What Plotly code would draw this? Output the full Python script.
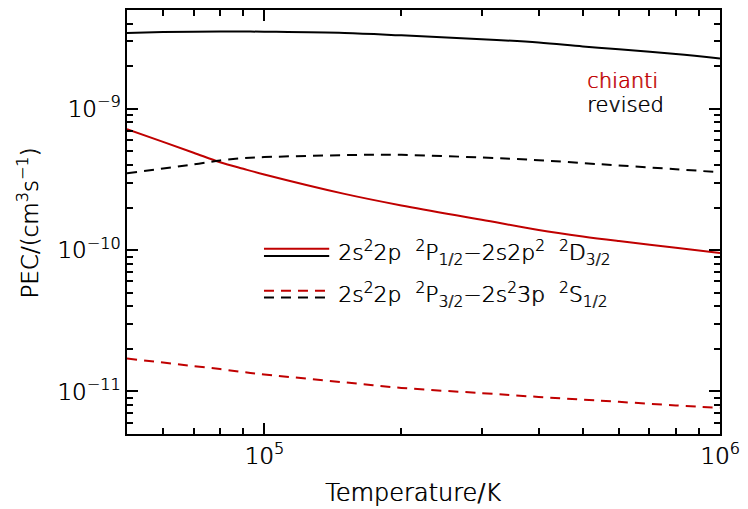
import plotly.graph_objects as go

# Temperature grid (K)
temperature = [5e4, 6e4, 7e4, 8e4, 9e4, 1e5, 1.5e5, 2e5, 3e5, 4e5, 5e5, 6e5, 8e5, 1e6]

# 2s2 2p 2P1/2 - 2s 2p2 2D3/2  (cm^3 s^-1)
pec_d32_chianti = [7.18e-10, 5.83e-10, 4.89e-10, 4.19e-10, 3.76e-10, 3.43e-10, 2.50e-10,
                   2.07e-10, 1.64e-10, 1.39e-10, 1.25e-10, 1.16e-10, 1.04e-10, 9.55e-11]
pec_d32_revised = [3.44e-9, 3.49e-9, 3.51e-9, 3.52e-9, 3.52e-9, 3.51e-9, 3.44e-9,
                   3.31e-9, 3.11e-9, 2.94e-9, 2.76e-9, 2.64e-9, 2.44e-9, 2.27e-9]

# 2s2 2p 2P3/2 - 2s2 3p 2S1/2  (cm^3 s^-1)
pec_s12_chianti = [1.71e-11, 1.60e-11, 1.51e-11, 1.44e-11, 1.37e-11, 1.32e-11, 1.16e-11,
                   1.06e-11, 9.73e-12, 9.14e-12, 8.75e-12, 8.44e-12, 7.97e-12, 7.66e-12]
pec_s12_revised = [3.50e-10, 3.78e-10, 4.04e-10, 4.31e-10, 4.47e-10, 4.55e-10, 4.70e-10,
                   4.72e-10, 4.52e-10, 4.33e-10, 4.13e-10, 3.97e-10, 3.74e-10, 3.55e-10]

x_major = [1e5, 1e6]
x_major_text = ["10<sup>5</sup>", "10<sup>6</sup>"]
y_major = [1e-11, 1e-10, 1e-9]
y_major_text = ["10<sup>\u221211</sup>", "10<sup>\u221210</sup>", "10<sup>\u22129</sup>"]

RED = "#c00000"
BLACK = "#000000"
FONT = "DejaVu Sans ExtraLight, DejaVu Sans"
DASH = "10px,7px"


def font(size, color=BLACK):
    # thin face, thickened slightly with a one-sided offset copy
    return dict(family=FONT, size=size, color=color, weight=200,
                shadow=f"0.6px 0 0 {color}")


x_minor = [m * 10 ** e for e in (4, 5) for m in range(2, 10) if 5e4 <= m * 10 ** e <= 1e6]
y_minor = [m * 10 ** e for e in (-12, -11, -10, -9) for m in range(2, 10) if 5e-12 <= m * 10 ** e <= 5e-9]

fig = go.Figure()
series = [
    (pec_d32_revised, BLACK, "solid"),
    (pec_d32_chianti, RED, "solid"),
    (pec_s12_revised, BLACK, DASH),
    (pec_s12_chianti, RED, DASH),
]
for values, color, dash in series:
    fig.add_trace(go.Scatter(
        x=temperature, y=values, mode="lines",
        line=dict(color=color, width=2, dash=dash, shape="spline"),
        showlegend=False, hoverinfo="skip",
    ))

axis_common = dict(
    type="log", showgrid=False, zeroline=False, showline=True, linecolor="black",
    linewidth=2, mirror="allticks", ticks="inside", ticklen=11, tickwidth=1.5,
    tickcolor="black", tickmode="array",
    tickfont=font(23),
)

fig.update_xaxes(
    **axis_common,
    range=[4.69897, 6.0],
    tickvals=x_major, ticktext=x_major_text,
    minor=dict(tickmode="array", tickvals=x_minor, ticks="inside", ticklen=6,
               tickwidth=1.5, tickcolor="black"),
)
fig.update_yaxes(
    **axis_common,
    range=[-11.30103, -8.30103],
    tickvals=y_major, ticktext=y_major_text,
    minor=dict(tickmode="array", tickvals=y_minor, ticks="inside", ticklen=6,
               tickwidth=1.5, tickcolor="black"),
)

# axis titles
fig.add_annotation(xref="paper", yref="paper", x=0.483, y=-0.138, xanchor="center",
                   yanchor="middle", showarrow=False, text="Temperature/K", font=font(24))
fig.add_annotation(xref="paper", yref="paper", x=-0.166, y=0.497, xanchor="center",
                   yanchor="middle", showarrow=False, textangle=-90,
                   text="PEC/(cm<sup>3</sup>s<sup>\u22121</sup>)", font=font(23))

# key: paired line samples with their transition labels
key_rows = [
    (0.437, 0.420, "solid", 0.427,
     "2s<sup>2</sup>2p  <sup>2</sup>P<sub>1/2</sub>\u22122s2p<sup>2</sup>  <sup>2</sup>D<sub>3/2</sub>"),
    (0.338, 0.322, DASH, 0.329,
     "2s<sup>2</sup>2p  <sup>2</sup>P<sub>3/2</sub>\u22122s<sup>2</sup>3p  <sup>2</sup>S<sub>1/2</sub>"),
]
for y_red, y_black, dash, y_text, label in key_rows:
    for yy, color in ((y_red, RED), (y_black, BLACK)):
        fig.add_shape(type="line", xref="paper", yref="paper",
                      x0=0.231, x1=0.341, y0=yy, y1=yy,
                      line=dict(color=color, width=2, dash=dash))
    fig.add_annotation(xref="paper", yref="paper", x=0.353, y=y_text,
                       xanchor="left", yanchor="middle", showarrow=False, text=label,
                       font=font(22))

fig.add_annotation(xref="paper", yref="paper", x=0.772, y=0.833, xanchor="left",
                   yanchor="middle", showarrow=False, text="chianti", font=font(21, RED))
fig.add_annotation(xref="paper", yref="paper", x=0.772, y=0.775, xanchor="left",
                   yanchor="middle", showarrow=False, text="revised", font=font(21))

fig.update_layout(
    width=748, height=509,
    margin=dict(l=127, r=23, t=8, b=75),
    paper_bgcolor="white", plot_bgcolor="white",
)

fig.write_html("out.html")
